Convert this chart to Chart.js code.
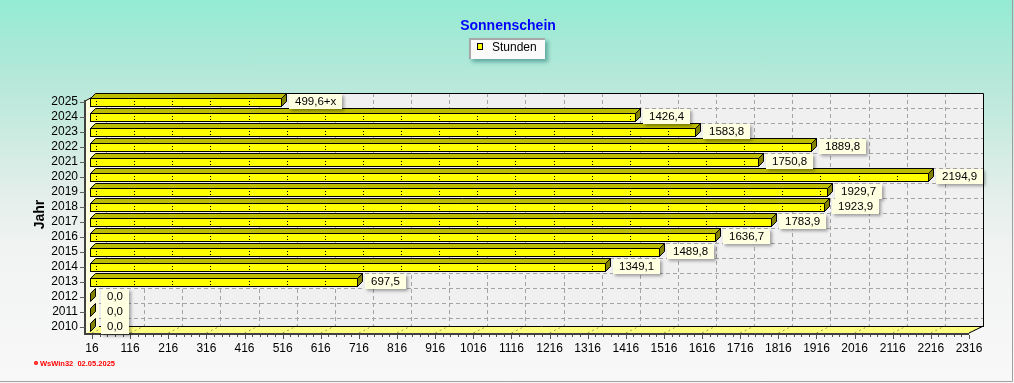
<!DOCTYPE html>
<html><head><meta charset="utf-8">
<script src="https://cdn.jsdelivr.net/npm/chart.js@4.4.1/dist/chart.umd.min.js"></script>
<style>
html,body{margin:0;padding:0;}
body{width:1014px;height:383px;overflow:hidden;background:linear-gradient(to bottom,#94ebd3 0px,#b6e8d9 80px,#e2eee9 190px,#f1f3f2 250px,#f8f8f8 383px);}
#wrap{position:relative;width:1014px;height:383px;}
canvas{display:block;}
</style></head><body><div id="wrap"><canvas id="c" width="1014" height="383"></canvas></div>
<script>
const chartTitle = 'Sonnenschein';
const seriesName = 'Stunden';
const axisTitle = 'Jahr';
const footerText = 'WsWin32  02.05.2025';
const years = ['2025','2024','2023','2022','2021','2020','2019','2018','2017','2016','2015','2014','2013','2012','2011','2010'];
const hours = [499.6,1426.4,1583.8,1889.8,1750.8,2194.9,1929.7,1923.9,1783.9,1636.7,1489.8,1349.1,697.5,0,0,0];
const valueLabels = ['499,6+x','1426,4','1583,8','1889,8','1750,8','2194,9','1929,7','1923,9','1783,9','1636,7','1489,8','1349,1','697,5','0,0','0,0','0,0'];
const xTicks = [16,116,216,316,416,516,616,716,816,916,1016,1116,1216,1316,1416,1516,1616,1716,1816,1916,2016,2116,2216,2316];

const FONT = '"Liberation Sans", Arial, sans-serif';
const D = 5;      // bar depth
const BX = 9, BY = -9; // back plane offset from bar plane
const FX = -5;    // front plane offset

const threeD = {
  id: 'threeD',
  beforeDatasetsDraw(chart) {
    const ctx = chart.ctx, xs = chart.scales.x, ys = chart.scales.y, a = chart.chartArea;
    const wallBar = Math.round(a.left) - 7;
    const pxMax = xs.getPixelForValue(xs.max);
    const backL = wallBar + BX, backR = Math.round(pxMax + BX);
    const backT = Math.round(a.top - 1.5), backB = Math.round(a.bottom - 8.5);
    const frontL = wallBar + FX + 1, frontR = Math.round(pxMax + FX);
    const frontB = Math.round(a.bottom - 1.5), frontT = backT + 7;
    ctx.save();
    // back wall
    ctx.fillStyle = '#f0f0f0';
    ctx.fillRect(backL, backT, backR - backL, backB - backT);
    ctx.strokeStyle = '#a4a4a4'; ctx.lineWidth = 1; ctx.setLineDash([4,3]);
    xTicks.forEach(v => {
      const x = Math.round(xs.getPixelForValue(v) + BX) + 0.5;
      if (x < backL + 2 || x > backR - 2) return;
      ctx.beginPath(); ctx.moveTo(x, backT); ctx.lineTo(x, backB); ctx.stroke();
    });
    years.forEach((y, i) => {
      const yy = Math.round(ys.getPixelForValue(i) + BY) + 0.5;
      if (yy < backT + 2 || yy > backB - 2) return;
      ctx.beginPath(); ctx.moveTo(backL, yy); ctx.lineTo(backR, yy); ctx.stroke();
    });
    ctx.setLineDash([]);
    ctx.strokeStyle = '#000';
    ctx.beginPath(); ctx.moveTo(backL, backT + 0.5); ctx.lineTo(backR + 0.5, backT + 0.5); ctx.lineTo(backR + 0.5, backB); ctx.stroke();
    // floor
    ctx.fillStyle = '#ffff80';
    ctx.beginPath(); ctx.moveTo(frontL, frontB); ctx.lineTo(frontR, frontB); ctx.lineTo(backR, backB); ctx.lineTo(backL, backB); ctx.closePath(); ctx.fill();
    ctx.strokeStyle = '#9a9a60'; ctx.setLineDash([2,3]);
    xTicks.forEach(v => {
      const p = xs.getPixelForValue(v);
      ctx.beginPath(); ctx.moveTo(p + FX, frontB); ctx.lineTo(p + BX, backB); ctx.stroke();
    });
    ctx.setLineDash([]);
    ctx.strokeStyle = '#000';
    ctx.beginPath(); ctx.moveTo(backL, backB + 0.5); ctx.lineTo(backR + 1, backB + 0.5); ctx.stroke();
    ctx.beginPath(); ctx.moveTo(frontR, frontB); ctx.lineTo(backR + 0.5, backB); ctx.stroke();
    ctx.strokeStyle = '#404040'; ctx.lineWidth = 2;
    ctx.beginPath(); ctx.moveTo(frontL - 1, frontB + 1); ctx.lineTo(frontR, frontB + 1); ctx.stroke();
    // left wall
    ctx.fillStyle = '#ffffe0';
    ctx.beginPath(); ctx.moveTo(frontL, frontT); ctx.lineTo(backL, backT); ctx.lineTo(backL, backB); ctx.lineTo(frontL, frontB); ctx.closePath(); ctx.fill();
    ctx.strokeStyle = '#404040'; ctx.lineWidth = 2;
    ctx.beginPath(); ctx.moveTo(frontL - 1, frontT); ctx.lineTo(frontL - 1, frontB + 2); ctx.stroke();
    ctx.lineWidth = 1; ctx.strokeStyle = '#000';
    ctx.beginPath(); ctx.moveTo(frontL, frontT + 0.5); ctx.lineTo(backL, backT + 0.5); ctx.stroke();
    // y tick marks
    ctx.strokeStyle = '#606060';
    years.forEach((y, i) => {
      const yy = Math.round(ys.getPixelForValue(i)) + 0.5;
      ctx.beginPath(); ctx.moveTo(frontL - 6, yy); ctx.lineTo(frontL - 1, yy); ctx.stroke();
    });
    // x tick marks (major + minor)
    ctx.strokeStyle = '#505050';
    xTicks.forEach((v, i) => {
      const x = Math.round(xs.getPixelForValue(v) + FX) + 0.5;
      ctx.beginPath(); ctx.moveTo(x, frontB + 2); ctx.lineTo(x, frontB + 6); ctx.stroke();
      if (i < xTicks.length - 1) {
        for (let k = 1; k < 5; k++) {
          const vm = v + (xTicks[i + 1] - v) * k / 5;
          const xm = Math.round(xs.getPixelForValue(vm) + FX) + 0.5;
          ctx.beginPath(); ctx.moveTo(xm, frontB + 2); ctx.lineTo(xm, frontB + 4); ctx.stroke();
        }
      }
    });
    ctx.restore();
  },
  afterDatasetsDraw(chart) {
    const ctx = chart.ctx, xs = chart.scales.x, a = chart.chartArea;
    const wallBar = Math.round(a.left) - 7;
    const meta = chart.getDatasetMeta(0);
    ctx.save();
    ctx.lineWidth = 1; ctx.strokeStyle = '#000';
    meta.data.forEach((el, i) => {
      const x0 = wallBar;
      const x1 = el.x <= el.base ? x0 : Math.round(el.x);
      const yT = Math.round(el.y - el.height / 2), yB = Math.round(el.y + el.height / 2);
      if (x1 > x0) {
        ctx.fillStyle = '#ffff00';
        ctx.fillRect(x0, yT, x1 - x0, yB - yT);
        ctx.strokeRect(x0 + 0.5, yT + 0.5, x1 - x0, yB - yT);
        ctx.fillStyle = '#000';
        xTicks.forEach(v => {
          const px = Math.round(xs.getPixelForValue(v)) - 1;
          if (px > x0 + 2 && px < x1 - 1) {
            ctx.fillRect(px, yT + 3, 1, 1);
            ctx.fillRect(px, yT + 6, 1, 1);
          }
        });
        ctx.fillStyle = '#bcbc00';
        ctx.beginPath();
        ctx.moveTo(x0 + 0.5, yT + 0.5); ctx.lineTo(x0 + D + 0.5, yT - D + 0.5);
        ctx.lineTo(x1 + D + 0.5, yT - D + 0.5); ctx.lineTo(x1 + 0.5, yT + 0.5); ctx.closePath();
        ctx.fill(); ctx.stroke();
      }
      ctx.fillStyle = '#828200';
      ctx.beginPath();
      ctx.moveTo(x1 + 0.5, yT + 0.5); ctx.lineTo(x1 + D + 0.5, yT - D + 0.5);
      ctx.lineTo(x1 + D + 0.5, yB - D + 0.5); ctx.lineTo(x1 + 0.5, yB + 0.5); ctx.closePath();
      ctx.fill(); ctx.stroke();
    });
    ctx.font = '11.5px ' + FONT;
    meta.data.forEach((el, i) => {
      const x0 = wallBar;
      const x1 = el.x <= el.base ? x0 : Math.round(el.x);
      const txt = valueLabels[i];
      const w = Math.round(ctx.measureText(txt).width) + 12;
      const bx = x1 + D + (x1 > x0 ? 3 : 6), by = Math.round(el.y) - 8, h = 15;
      ctx.save();
      ctx.shadowColor = 'rgba(0,0,0,0.35)'; ctx.shadowBlur = 3; ctx.shadowOffsetX = 2; ctx.shadowOffsetY = 2;
      ctx.fillStyle = '#ffffe2';
      ctx.fillRect(bx, by, w, h);
      ctx.restore();
      ctx.fillStyle = '#000'; ctx.textBaseline = 'middle'; ctx.textAlign = 'left';
      ctx.fillText(txt, bx + 6, by + h / 2 + 0.5);
    });
    ctx.restore();
  },
  afterDraw(chart) {
    const ctx = chart.ctx;
    ctx.save();
    ctx.font = 'bold 14px ' + FONT; ctx.fillStyle = '#0000ff';
    ctx.textAlign = 'center'; ctx.textBaseline = 'middle';
    ctx.fillText(chartTitle, 508, 26);
    const lx = 469, ly = 38, lw = 76, lh = 21;
    ctx.save();
    ctx.shadowColor = 'rgba(0,90,90,0.45)'; ctx.shadowBlur = 4; ctx.shadowOffsetX = 3; ctx.shadowOffsetY = 3;
    ctx.fillStyle = '#fafafa'; ctx.fillRect(lx, ly, lw, lh);
    ctx.restore();
    ctx.fillStyle = '#a8a8a8';
    ctx.fillRect(lx, ly, lw, 2); ctx.fillRect(lx, ly, 2, lh);
    ctx.fillStyle = '#ffff00'; ctx.fillRect(477, 43, 6, 7);
    ctx.strokeStyle = '#000'; ctx.lineWidth = 1; ctx.strokeRect(477.5, 43.5, 5, 6);
    ctx.fillStyle = '#000'; ctx.font = '12px ' + FONT; ctx.textAlign = 'left';
    ctx.fillText(seriesName, 492, 48);
    ctx.fillStyle = '#ff0000';
    ctx.beginPath(); ctx.arc(36, 363, 2, 0, Math.PI * 2); ctx.fill();
    ctx.fillStyle = '#fff'; ctx.fillRect(35.5, 362.5, 1, 1);
    ctx.fillStyle = '#ff0000'; ctx.font = 'bold 7.5px ' + FONT; ctx.textBaseline = 'middle';
    ctx.fillText(footerText, 40, 363.5);
    ctx.strokeStyle = '#a0a0a0'; ctx.lineWidth = 1;
    ctx.beginPath(); ctx.moveTo(0, 381.5); ctx.lineTo(1012.5, 381.5); ctx.lineTo(1012.5, 0); ctx.stroke();
    ctx.restore();
  }
};

new Chart(document.getElementById('c'), {
  type: 'bar',
  data: {
    labels: years,
    datasets: [{
      label: seriesName,
      data: hours,
      backgroundColor: 'rgba(0,0,0,0)',
      borderWidth: 0,
      barThickness: 8
    }]
  },
  options: {
    indexAxis: 'y',
    responsive: false,
    animation: false,
    devicePixelRatio: 1,
    layout: { padding: { left: 0, top: 94.5, right: 40, bottom: 0 } },
    plugins: { legend: { display: false }, title: { display: false }, tooltip: { enabled: false } },
    scales: {
      x: {
        type: 'linear', min: 16, max: 2316,
        afterBuildTicks: s => { s.ticks = xTicks.map(v => ({ value: v })); },
        afterFit: s => { s.height = 48.5; },
        grid: { display: false, drawTicks: false },
        border: { display: false },
        ticks: { autoSkip: false, maxRotation: 0, padding: 7, labelOffset: -5, color: '#000', font: { family: FONT, size: 12 }, callback: v => String(v) }
      },
      y: {
        type: 'category',
        afterFit: s => { s.width = 97; },
        grid: { display: false, drawTicks: false },
        border: { display: false },
        ticks: { autoSkip: false, padding: 19, color: '#000', font: { family: FONT, size: 12 } },
        title: { display: true, text: axisTitle, color: '#000', font: { family: FONT, size: 14, weight: 'bold' }, padding: { top: 32, bottom: 0 } }
      }
    }
  },
  plugins: [threeD]
});
</script></body></html>
